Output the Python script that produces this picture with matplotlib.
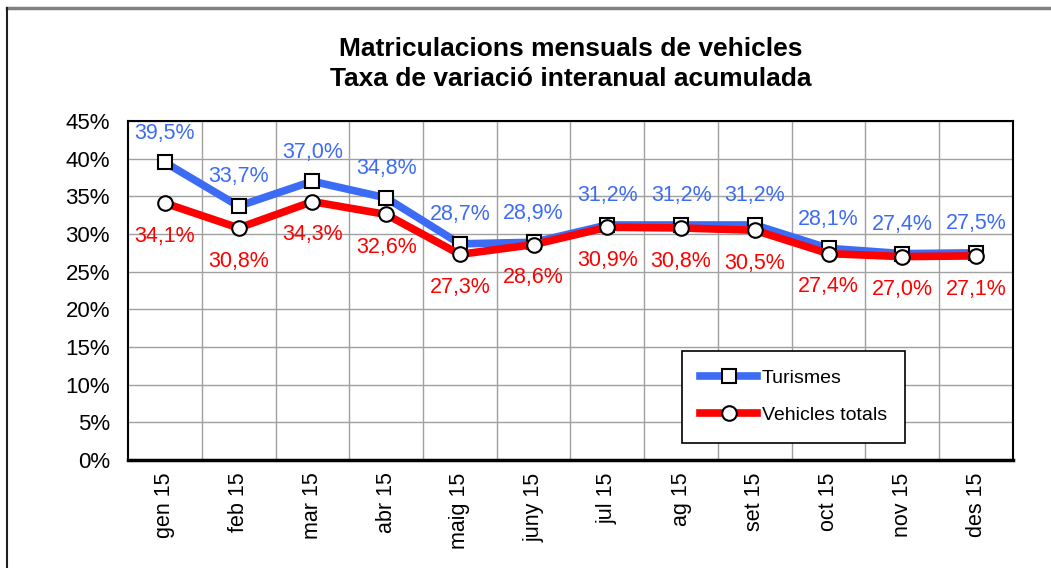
import numpy as np
import matplotlib.pyplot as plt
from matplotlib.lines import Line2D

plt.rcParams['font.family'] = ['Liberation Sans', 'DejaVu Sans']

months = ["gen 15", "feb 15", "mar 15", "abr 15", "maig 15", "juny 15",
          "jul 15", "ag 15", "set 15", "oct 15", "nov 15", "des 15"]
turismes = [39.5, 33.7, 37.0, 34.8, 28.7, 28.9, 31.2, 31.2, 31.2, 28.1, 27.4, 27.5]
vehicles = [34.1, 30.8, 34.3, 32.6, 27.3, 28.6, 30.9, 30.8, 30.5, 27.4, 27.0, 27.1]

blue = "#3C6CF5"
red = "#FF0000"

fig = plt.figure(figsize=(10.51, 5.68), dpi=100)
ax = fig.add_axes([0.1218, 0.190, 0.8420, 0.597])

x = np.arange(len(months))
ax.plot(x, turismes, color=blue, lw=5.5, marker="s", ms=10.5,
        mfc="white", mec="black", mew=1.5, label="Turismes", zorder=3)
ax.plot(x, vehicles, color=red, lw=5.5, marker="o", ms=10.5,
        mfc="white", mec="black", mew=1.5, label="Vehicles totals", zorder=4)

def fmt(v):
    return f"{v:.1f}%".replace(".", ",")

for xi, v in zip(x, turismes):
    ax.annotate(fmt(v), (xi, v), xytext=(0, 21), textcoords="offset points",
                ha="center", va="center", color=blue, fontsize=15.5)
for xi, v in zip(x, vehicles):
    ax.annotate(fmt(v), (xi, v), xytext=(0, -24), textcoords="offset points",
                ha="center", va="center", color=red, fontsize=15.5)

ax.set_xlim(-0.5, len(months) - 0.5)
ax.set_ylim(0, 45)
ax.set_yticks(np.arange(0, 46, 5))
ax.set_yticklabels([f"{v}%" for v in range(0, 46, 5)], fontsize=16)
ax.set_xticks(x)
ax.set_xticklabels(months, rotation=90, fontsize=15.5)
ax.set_xticks(np.arange(0.5, len(months) - 0.5, 1), minor=True)
ax.tick_params(axis="both", which="both", length=0)
ax.tick_params(axis="y", pad=13)
ax.tick_params(axis="x", pad=9)
ax.grid(True, axis="y", color="#A0A0A0", lw=1)
ax.grid(True, axis="x", which="minor", color="#A0A0A0", lw=1)
ax.set_axisbelow(True)
for s in ["left", "right", "top"]:
    ax.spines[s].set_linewidth(1.5)
    ax.spines[s].set_color("black")
ax.spines["bottom"].set_linewidth(2.5)

ax.set_title("Matriculacions mensuals de vehicles\nTaxa de variació interanual acumulada",
             fontsize=19, fontweight="bold", pad=25, linespacing=1.32)

leg = ax.legend(loc="upper left", bbox_to_anchor=(0.626, 0.3215), fontsize=14,
                frameon=True, fancybox=False, edgecolor="black", framealpha=1,
                handlelength=2.9, borderpad=0.95, labelspacing=1.0, handletextpad=0.25,
                borderaxespad=0)
leg.get_frame().set_linewidth(1.2)

# outer chart frame (top and left visible)
fig.add_artist(Line2D([7 / 1051, 1], [1 - 8 / 568, 1 - 8 / 568], color="#808080", lw=2.5))
fig.add_artist(Line2D([7 / 1051, 7 / 1051], [0, 1 - 8 / 568], color="#202020", lw=1.5))

fig.savefig("out.png", dpi=100)
